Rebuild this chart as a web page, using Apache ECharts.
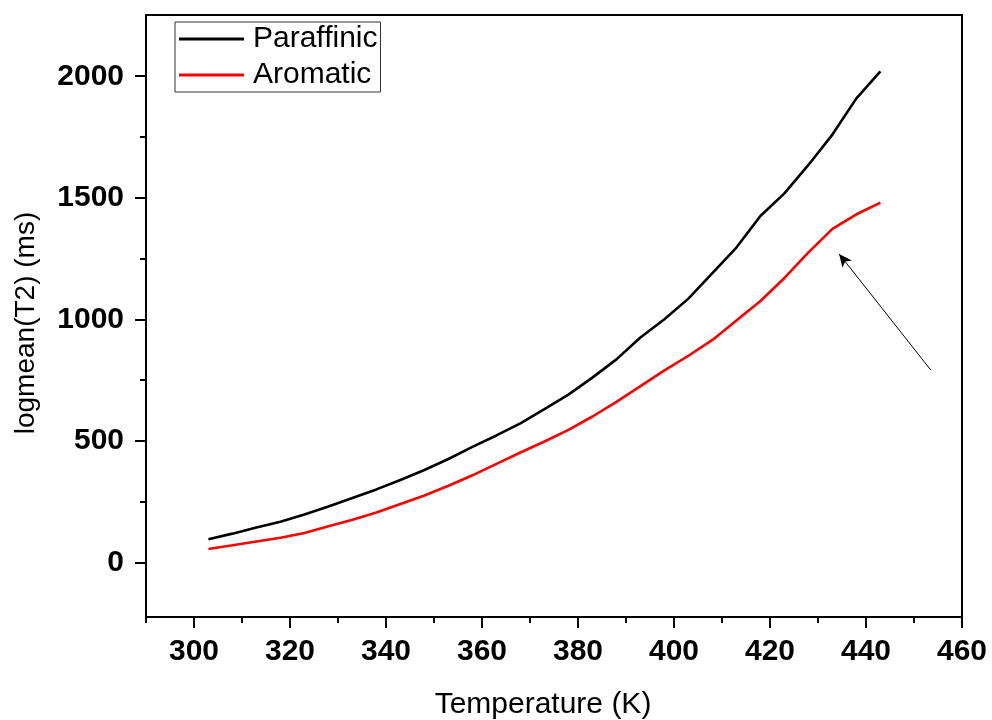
<!DOCTYPE html>
<html>
<head>
<meta charset="utf-8">
<script src="https://cdn.jsdelivr.net/npm/echarts@6/dist/echarts.min.js"></script>
<style>html,body{margin:0;padding:0;background:#fff;}#c{width:992px;height:720px;}</style>
</head>
<body>
<div id="c"></div>
<script>
const temperatures = [303,308,313,318,323,328,333,338,343,348,353,358,363,368,373,378,383,388,393,398,403,408,413,418,423,428,433,438,443];
const paraffinic = [95,118,143,167,197,230,265,300,339,380,425,475,522,572,630,690,760,835,925,1000,1085,1190,1295,1425,1518,1635,1760,1909,2020];
const aromatic = [55,70,86,101,121,148,175,205,240,275,315,358,405,452,497,545,600,660,725,790,850,915,995,1075,1170,1275,1372,1432,1480];
const xMajorTicks = [300,320,340,360,380,400,420,440,460];
const xMinorTicks = [290,310,330,350,370,390,410,430,450];
const yMajorTicks = [0,500,1000,1500,2000];
const yMinorTicks = [-250,250,750,1250,1750];
const arrowFrom = [453.5, 791];
const arrowTo = [434.4, 1269];

const font = '"Liberation Sans", Arial, sans-serif';
const chart = echarts.init(document.getElementById('c'), null, {renderer: 'canvas'});
const pairs = (xs, ys) => xs.map((x, i) => [x, ys[i]]);
const plain = v => String(v);

chart.setOption({
  animation: false,
  backgroundColor: '#fff',
  grid: {left: 146, right: 30, top: 15, bottom: 103, show: true, borderColor: '#000', borderWidth: 2, backgroundColor: 'transparent', containLabel: false, outerBoundsMode: 'none'},
  legend: {
    left: 175, top: 22, orient: 'vertical',
    borderColor: '#333', borderWidth: 1, padding: [2, 3, 2, 4],
    itemWidth: 65, itemHeight: 3, itemGap: 6, icon: 'rect',
    textStyle: {fontFamily: font, fontSize: 30, color: '#000', lineHeight: 30, padding: [0, 0, 0, 4]},
    data: ['Paraffinic', 'Aromatic']
  },
  xAxis: [{
    type: 'value', min: 290, max: 460,
    name: 'Temperature (K)', nameLocation: 'middle', nameGap: 73,
    nameTextStyle: {fontFamily: font, fontSize: 30, color: '#000', padding: [0, 22, 0, 0]},
    axisLine: {show: true, onZero: false, lineStyle: {color: '#000', width: 2}},
    axisTick: {show: true, inside: false, length: 11, customValues: xMajorTicks, lineStyle: {color: '#000', width: 2}},
    axisLabel: {customValues: xMajorTicks, formatter: plain, margin: 20, fontFamily: font, fontSize: 30, fontWeight: 'bold', color: '#000'},
    splitLine: {show: false}
  }, {
    type: 'value', min: 290, max: 460, position: 'bottom',
    axisLine: {show: false, onZero: false},
    axisTick: {show: true, inside: false, length: 6, customValues: xMinorTicks, lineStyle: {color: '#000', width: 2}},
    axisLabel: {show: false},
    splitLine: {show: false}
  }],
  yAxis: [{
    type: 'value', min: -225, max: 2252,
    name: 'logmean(T2) (ms)', nameLocation: 'middle', nameGap: 106,
    nameTextStyle: {fontFamily: font, fontSize: 28, color: '#000', padding: [0, 14, 0, 0]},
    axisLine: {show: true, onZero: false, lineStyle: {color: '#000', width: 2}},
    axisTick: {show: true, inside: false, length: 11, customValues: yMajorTicks, lineStyle: {color: '#000', width: 2}},
    axisLabel: {customValues: yMajorTicks, formatter: plain, margin: 22, fontFamily: font, fontSize: 30, fontWeight: 'bold', color: '#000'},
    splitLine: {show: false}
  }, {
    type: 'value', min: -225, max: 2252, position: 'left',
    axisLine: {show: false, onZero: false},
    axisTick: {show: true, inside: false, length: 6, customValues: yMinorTicks, lineStyle: {color: '#000', width: 2}},
    axisLabel: {show: false},
    splitLine: {show: false}
  }],
  series: [{
    name: 'Paraffinic', type: 'line', xAxisIndex: 0, yAxisIndex: 0,
    data: pairs(temperatures, paraffinic), showSymbol: false, symbol: 'none',
    lineStyle: {color: '#000', width: 2.6}, itemStyle: {color: '#000'},
    markLine: {
      silent: true, symbol: ['none', 'arrow'], symbolSize: [9, 13],
      lineStyle: {color: '#000', width: 1, type: 'solid'}, label: {show: false},
      data: [[{coord: arrowFrom}, {coord: arrowTo}]]
    }
  }, {
    name: 'Aromatic', type: 'line', xAxisIndex: 0, yAxisIndex: 0,
    data: pairs(temperatures, aromatic), showSymbol: false, symbol: 'none',
    lineStyle: {color: '#ff0000', width: 2.6}, itemStyle: {color: '#ff0000'}
  }]
});
</script>
</body>
</html>
